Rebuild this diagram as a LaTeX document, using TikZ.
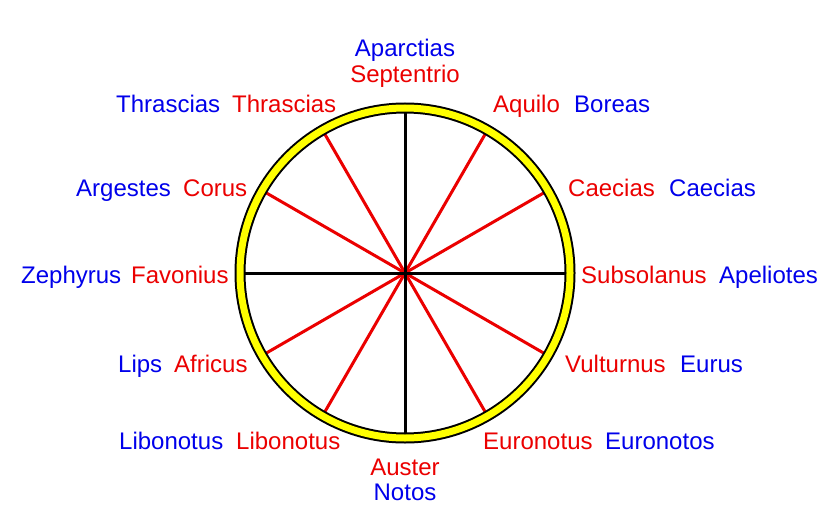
\documentclass[tikz,border=0pt]{standalone}
\usepackage{fontspec}
\setmainfont{Liberation Sans}
\definecolor{wblue}{RGB}{0,0,235}
\definecolor{wred}{RGB}{235,0,0}
\definecolor{wyellow}{RGB}{255,255,0}
\begin{document}
\begin{tikzpicture}[x=1pt,y=-1pt,
  lbl/.style={anchor=base west,inner sep=0pt,font=\fontsize{24}{28}\selectfont},
  lblc/.style={anchor=base,inner sep=0pt,font=\fontsize{24}{28}\selectfont},
  bl/.style={text=wblue},
  rd/.style={text=wred},
  mainspoke/.style={draw=black,line width=3pt},
  minorspoke/.style={draw=wred,line width=3pt}]
\useasboundingbox[fill=white] (0,0) rectangle (840,524);
\coordinate (c) at (405,273);
% spokes
\foreach \a in {30,60,120,150,210,240,300,330}{
  \draw[minorspoke] (c) -- ++(\a:160);
}
\foreach \a in {0,90,180,270}{
  \draw[mainspoke] (c) -- ++(\a:161);
}
% ring
\draw[black,line width=11pt] (c) circle[radius=165];
\draw[wyellow,line width=7pt] (c) circle[radius=165];
% labels
\node[lblc,bl] (apar) at (405,57) {Aparctias};
\node[lblc,rd] (sept) at (405,83) {Septentrio};
\node[lbl,bl] (thr1) at (116,113) {Thrascias};
\node[lbl,rd] (thr2) at (232,113) {Thrascias};
\node[lbl,rd] (aqu) at (493,113) {Aquilo};
\node[lbl,bl] (bor) at (574,113) {Boreas};
\node[lbl,bl] (arg) at (76,196) {Argestes};
\node[lbl,rd] (cor) at (183,196) {Corus};
\node[lbl,rd] (cae1) at (568,196) {Caecias};
\node[lbl,bl] (cae2) at (669,196) {Caecias};
\node[lbl,bl] (zep) at (21,283) {Zephyrus};
\node[lbl,rd] (fav) at (131,283) {Favonius};
\node[lbl,rd] (sub) at (581,283) {Subsolanus};
\node[lbl,bl] (ape) at (719,283) {Apeliotes};
\node[lbl,bl] (lip) at (118,372) {Lips};
\node[lbl,rd] (afr) at (174,372) {Africus};
\node[lbl,rd] (vul) at (565,372) {Vulturnus};
\node[lbl,bl] (eur) at (680,372) {Eurus};
\node[lbl,bl] (lib1) at (119,449) {Libonotus};
\node[lbl,rd] (lib2) at (236,449) {Libonotus};
\node[lbl,rd] (eun1) at (483,449) {Euronotus};
\node[lbl,bl] (eun2) at (605,449) {Euronotos};
\node[lblc,rd] (aus) at (405,475) {Auster};
\node[lblc,bl] (not) at (405,500) {Notos};
\end{tikzpicture}
\end{document}
